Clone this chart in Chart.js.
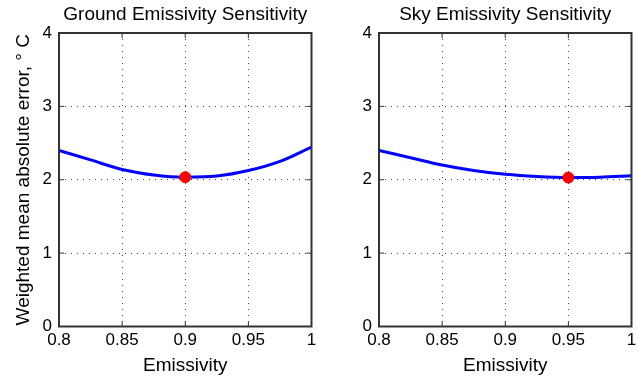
<!DOCTYPE html>
<html>
<head>
<meta charset="utf-8">
<script src="https://cdn.jsdelivr.net/npm/chart.js@4"></script>
<style>
  html, body { margin: 0; padding: 0; background: #fff; }
  #wrap { position: relative; width: 644px; height: 386px; }
  #wrap canvas { position: absolute; left: 0; top: 0; }
</style>
</head>
<body>
<div id="wrap">
  <canvas id="ground" width="644" height="386"></canvas>
  <canvas id="sky" width="644" height="386"></canvas>
</div>
<script>
// ---- data ----
const emissivity = [0.8, 0.825, 0.85, 0.875, 0.9, 0.925, 0.95, 0.975, 1.0];
const groundError = [2.40, 2.27, 2.14, 2.065, 2.035, 2.05, 2.125, 2.25, 2.445];
const skyError = [2.40, 2.30, 2.20, 2.125, 2.075, 2.045, 2.03, 2.035, 2.055];
const groundBest = [0.9, 2.035];
const skyBest = [0.95, 2.03];
const xTicks = [0.8, 0.85, 0.9, 0.95, 1];
const yTicks = [0, 1, 2, 3, 4];

const FONT = "'Liberation Sans', Arial, sans-serif";

// box, inward ticks and text labels, MATLAB style
const frame = {
  id: "frame",
  afterDraw(chart, args, opts) {
    const { ctx, chartArea: a, scales } = chart;
    ctx.save();
    ctx.strokeStyle = "#333";
    ctx.lineWidth = 1;
    ctx.beginPath();
    xTicks.forEach(v => {
      const px = scales.x.getPixelForValue(v);
      ctx.moveTo(px, a.bottom); ctx.lineTo(px, a.bottom - 5);
      ctx.moveTo(px, a.top); ctx.lineTo(px, a.top + 5);
    });
    yTicks.forEach(v => {
      const py = scales.y.getPixelForValue(v);
      ctx.moveTo(a.left, py); ctx.lineTo(a.left + 5, py);
      ctx.moveTo(a.right, py); ctx.lineTo(a.right - 5, py);
    });
    ctx.stroke();
    ctx.lineWidth = 2;
    ctx.strokeRect(a.left, a.top, a.right - a.left, a.bottom - a.top);

    ctx.fillStyle = "#000";
    ctx.font = "19px " + FONT;
    ctx.textAlign = "center";
    ctx.textBaseline = "middle";
    const cx = (a.left + a.right) / 2;
    ctx.fillText(opts.title, cx, 15);
    ctx.fillText("Emissivity", cx, 366);
    if (opts.ylabel) {
      ctx.translate(24, (a.top + a.bottom) / 2);
      ctx.rotate(-Math.PI / 2);
      ctx.fillText(opts.ylabel, 0, 0);
    }
    ctx.restore();
  }
};

function makeChart(id, values, best, title, ylabel, left, right) {
  const points = emissivity.map((x, i) => ({ x: x, y: values[i] }));
  return new Chart(document.getElementById(id), {
    type: "scatter",
    data: {
      datasets: [
        {
          data: [{ x: best[0], y: best[1] }],
          backgroundColor: "#ff0000",
          borderColor: "#ff0000",
          pointRadius: 5.5,
          pointStyle: "circle"
        },
        {
          data: points,
          showLine: true,
          borderColor: "#0000ff",
          borderWidth: 3,
          pointRadius: 0,
          tension: 0.4,
          cubicInterpolationMode: "monotone"
        }
      ]
    },
    options: {
      responsive: false,
      animation: false,
      layout: { padding: { left: left - 30, right: 644 - right, top: 33, bottom: 386 - 326.5 - 26 } },
      plugins: {
        legend: { display: false },
        tooltip: { enabled: false },
        frame: { title: title, ylabel: ylabel }
      },
      scales: {
        x: {
          type: "linear",
          min: 0.8,
          max: 1,
          afterBuildTicks: s => { s.ticks = xTicks.map(v => ({ value: v })); },
          afterFit: s => { s.height = 26; },
          ticks: {
            color: "#000",
            font: { family: FONT, size: 17 },
            padding: 4,
            callback: v => String(Number(v.toFixed(2)))
          },
          border: { display: false, dash: [1, 5] },
          grid: { color: "#444", lineWidth: 1, drawTicks: false }
        },
        y: {
          min: 0,
          max: 4,
          afterBuildTicks: s => { s.ticks = yTicks.map(v => ({ value: v })); },
          afterFit: s => { s.width = 30; },
          ticks: {
            color: "#000",
            font: { family: FONT, size: 17 },
            padding: 7
          },
          border: { display: false, dash: [1, 5] },
          grid: { color: "#444", lineWidth: 1, drawTicks: false }
        }
      }
    },
    plugins: [frame]
  });
}

makeChart("ground", groundError, groundBest, "Ground Emissivity Sensitivity",
  "Weighted mean absolute error, \u00B0 C", 59, 311.5);
makeChart("sky", skyError, skyBest, "Sky Emissivity Sensitivity", "", 379, 631.5);
</script>
</body>
</html>
